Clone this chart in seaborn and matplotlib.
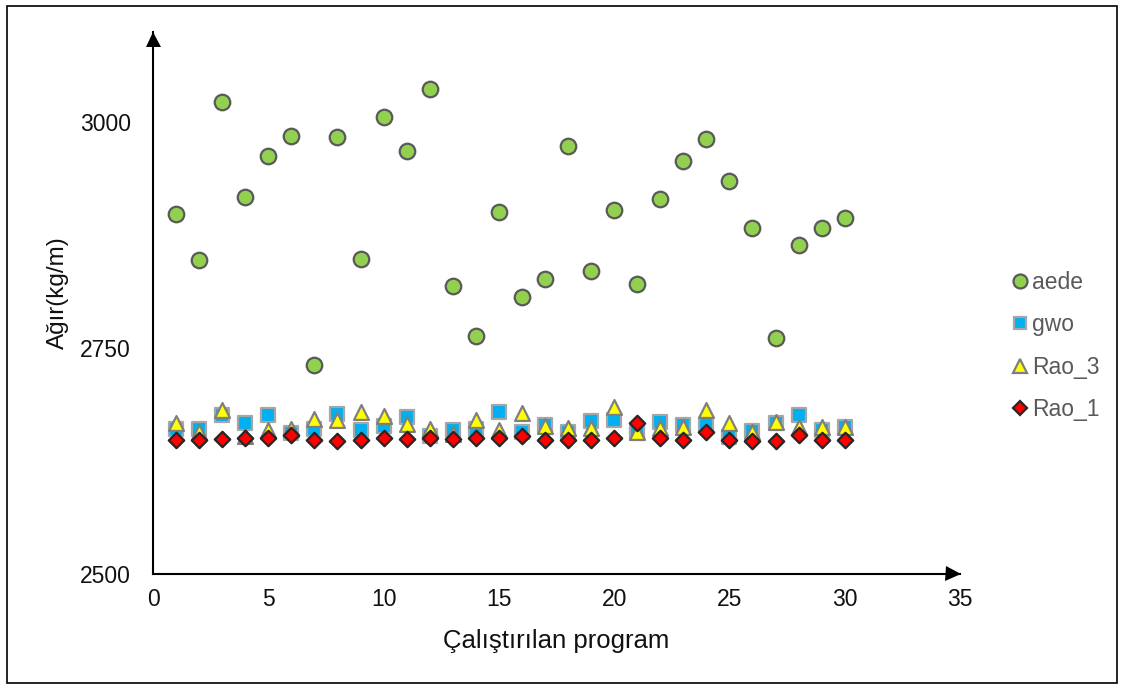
import matplotlib
matplotlib.use("Agg")
import matplotlib.pyplot as plt
import matplotlib.transforms as mtransforms
from matplotlib.patches import Rectangle
from matplotlib.lines import Line2D
import seaborn as sns
import pandas as pd

sns.set_theme(style="white")
plt.rcParams["font.family"] = ["Liberation Sans", "DejaVu Sans"]

runs = list(range(1, 31))
aede = [2898, 2847, 3022, 2917, 2962, 2985, 2731, 2983, 2849, 3006,
        2968, 3037, 2819, 2763, 2901, 2806, 2826, 2974, 2835, 2903,
        2821, 2915, 2957, 2981, 2935, 2883, 2761, 2864, 2883, 2894]
gwo = [2660, 2660, 2676, 2667, 2676, 2656, 2660, 2677, 2659, 2664,
       2674, 2653, 2659, 2660, 2679, 2657, 2665, 2657, 2669, 2670,
       2656, 2668, 2665, 2665, 2652, 2658, 2667, 2676, 2659, 2663]
rao_3 = [2667, 2657, 2681, 2653, 2659, 2660, 2672, 2670, 2679, 2675,
         2666, 2660, 2655, 2670, 2659, 2678, 2664, 2661, 2661, 2685,
         2657, 2662, 2663, 2682, 2667, 2657, 2668, 2663, 2663, 2663]
rao_1 = [2648, 2648, 2649, 2651, 2651, 2654, 2648, 2647, 2648, 2650,
         2649, 2651, 2649, 2650, 2651, 2653, 2648, 2648, 2648, 2651,
         2667, 2650, 2648, 2657, 2648, 2647, 2647, 2654, 2648, 2648]

series_names = ["aede", "gwo", "Rao_3", "Rao_1"]
x_ticks = [0, 5, 10, 15, 20, 25, 30, 35]
y_ticks = [2500, 2750, 3000]

df = pd.DataFrame({
    "run": runs * 4,
    "value": aede + gwo + rao_3 + rao_1,
    "series": [n for n in series_names for _ in runs],
})

styles = {
    "aede":  dict(marker="o", fc="#92D050", ec="#595959", s=125, lw=1.6),
    "gwo":   dict(marker="s", fc="#00B0F0", ec="#A6A6A6", s=105, lw=1.6),
    "Rao_3": dict(marker="^", fc="#FFFF00", ec="#7F7F7F", s=115, lw=1.6),
    "Rao_1": dict(marker="D", fc="#FF0000", ec="#262626", s=62, lw=1.6),
}

W, H = 1125, 689
fig = plt.figure(figsize=(W / 100, H / 100), dpi=100)
ax = fig.add_axes([153 / W, 1 - 574 / H, (960 - 153) / W, (574 - 31.7) / H])

for name in series_names:
    st = styles[name]
    sns.scatterplot(data=df[df["series"] == name], x="run", y="value", ax=ax,
                    marker=st["marker"], color=st["fc"], edgecolor=st["ec"],
                    s=st["s"], linewidth=st["lw"], legend=False, zorder=3)

ax.set_xlim(0, 35)
ax.set_ylim(2500, 3100)
ax.set_xticks(x_ticks)
ax.set_yticks(y_ticks)
ax.tick_params(axis="both", direction="inout", length=10, width=1.3,
               colors="black", labelsize=16.5, labelcolor="#111111")
ax.tick_params(axis="x", pad=5)
ax.tick_params(axis="y", pad=11)
ax.set_xlabel("")
ax.set_ylabel("")

for side in ["top", "right"]:
    ax.spines[side].set_visible(False)
for side in ["left", "bottom"]:
    ax.spines[side].set_color("black")
    ax.spines[side].set_linewidth(1.5)

# arrow heads: tips sit exactly on the axis ends
shift_x = mtransforms.ScaledTranslation(-7.3 / 100, 0, fig.dpi_scale_trans)
shift_y = mtransforms.ScaledTranslation(0, -7.3 / 100, fig.dpi_scale_trans)
ax.plot(1, 0, marker=">", color="black", markersize=10.8, markeredgewidth=0,
        transform=ax.transAxes + shift_x, clip_on=False, zorder=5)
ax.plot(0, 1, marker="^", color="black", markersize=10.8, markeredgewidth=0,
        transform=ax.transAxes + shift_y, clip_on=False, zorder=5)

fig.text(556.5 / W, 1 - 648 / H, "Çalıştırılan program", fontsize=18.5,
         color="#111111", ha="center", va="baseline")
fig.text(58 / W, 1 - 292.5 / H, "Ağır(kg/m)", fontsize=17.5, rotation=90,
         color="#111111", ha="center", va="center")

handles = [Line2D([0], [0], linestyle="none", marker=styles[n]["marker"],
                  markerfacecolor=styles[n]["fc"], markeredgecolor=styles[n]["ec"],
                  markeredgewidth=1.6, markersize=(styles[n]["s"] ** 0.5) * 0.9)
           for n in series_names]
leg = fig.legend(handles, series_names, loc="center left", bbox_to_anchor=(1011 / W, 1 - 346 / H),
                 frameon=False, fontsize=16.5, handletextpad=0.1, labelspacing=0.85,
                 handlelength=0.8, borderaxespad=0, borderpad=0)
for t in leg.get_texts():
    t.set_color("#595959")

fig.patches.append(Rectangle((7 / W, 6 / H), 1110 / W, 677 / H, transform=fig.transFigure,
                             fill=False, edgecolor="black", linewidth=1.2))

fig.savefig("out.png", dpi=100)
